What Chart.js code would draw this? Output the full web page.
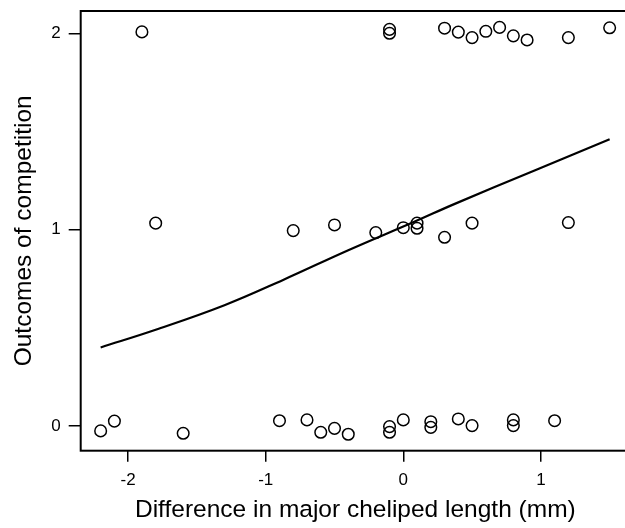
<!DOCTYPE html>
<html>
<head>
<meta charset="utf-8">
<style>
  html, body { margin: 0; padding: 0; background: #fff; overflow: hidden; }
  #wrap { width: 640px; height: 528px; }
</style>
<script src="https://cdn.jsdelivr.net/npm/chart.js@4/dist/chart.umd.min.js"></script>
</head>
<body>
<div id="wrap"><canvas id="c" width="640" height="528"></canvas></div>
<script>
const outcomeX = [
  -1.9, -0.1, -0.1, 0.3, 0.4, 0.5, 0.6, 0.7, 0.8, 0.9, 1.2, 1.5,
  -1.8, -0.8, -0.5, -0.2, 0.0, 0.1, 0.1, 0.3, 0.5, 1.2,
  -2.2, -2.1, -1.6, -0.9, -0.7, -0.6, -0.5, -0.4, -0.1, -0.1, 0.0, 0.2, 0.2, 0.4, 0.5, 0.8, 0.8, 1.1
];
const outcomeY = [
  2.007, 2.020, 2.000, 2.026, 2.006, 1.978, 2.010, 2.030, 1.987, 1.966, 1.978, 2.028,
  1.033, 0.995, 1.024, 0.985, 1.010, 1.033, 1.007, 0.961, 1.033, 1.036,
  -0.025, 0.025, -0.037, 0.027, 0.031, -0.032, -0.012, -0.042, -0.003, -0.032, 0.031, 0.022, -0.007, 0.036, 0.002, 0.031, 0.002, 0.027
];
// Fitted curve, points
const curveX = [-2.2, -1.8, -1.3, -0.87, -0.4, 0.08, 0.37, 0.95, 1.5];
const curveY = [0.40, 0.49, 0.615, 0.745, 0.895, 1.04, 1.13, 1.30, 1.46];
// Tick labels
const xTicks = [-2, -1, 0, 1];
const yTicks = [0, 1, 2];

const FONT = "'Liberation Sans', Arial, Helvetica, sans-serif";

const framePlugin = {
  id: 'frame',
  afterDatasetsDraw(chart) {
    const a = chart.chartArea, ctx = chart.ctx;
    ctx.save();
    ctx.strokeStyle = '#000';
    ctx.lineWidth = 2;
    ctx.strokeRect(a.left, a.top, a.right - a.left, a.bottom - a.top);
    ctx.restore();
  }
};

new Chart(document.getElementById('c'), {
  type: 'scatter',
  data: {
    datasets: [
      {
        label: 'fit',
        data: curveX.map((x, i) => ({ x, y: curveY[i] })),
        showLine: true,
        borderColor: '#000',
        borderWidth: 2.2,
        pointRadius: 0,
        tension: 0.4,
        fill: false
      },
      {
        label: 'outcomes',
        data: outcomeX.map((x, i) => ({ x, y: outcomeY[i] })),
        pointStyle: 'circle',
        pointRadius: 5.8,
        pointBorderWidth: 1.5,
        pointBorderColor: '#000',
        pointBackgroundColor: 'rgba(0,0,0,0)',
        showLine: false
      }
    ]
  },
  options: {
    responsive: false,
    animation: false,
    layout: { padding: { top: 11, right: 10, left: 0, bottom: 0 } },
    plugins: { legend: { display: false }, tooltip: { enabled: false } },
    scales: {
      x: {
        type: 'linear',
        min: -2.345,
        max: 1.648,
        afterBuildTicks: s => { s.ticks = xTicks.map(v => ({ value: v })); },
        afterFit: s => { s.height = 77.3; s.paddingLeft = 0; s.paddingRight = 0; },
        border: { display: false },
        grid: { display: true, drawOnChartArea: false, drawTicks: true, tickLength: 11, color: '#000', lineWidth: 1.5 },
        ticks: { color: '#000', font: { family: FONT, size: 17 }, padding: 8, maxRotation: 0 },
        title: { display: true, text: 'Difference in major cheliped length (mm)', color: '#000',
                 font: { family: FONT, size: 24.5 }, padding: { top: 0, bottom: 3 } }
      },
      y: {
        type: 'linear',
        min: -0.1258,
        max: 2.1135,
        afterBuildTicks: s => { s.ticks = yTicks.map(v => ({ value: v })); },
        afterFit: s => { s.width = 80.7; s.paddingTop = 0; s.paddingBottom = 0; },
        border: { display: false },
        grid: { display: true, drawOnChartArea: false, drawTicks: true, tickLength: 12, color: '#000', lineWidth: 1.5 },
        ticks: { color: '#000', font: { family: FONT, size: 17 }, padding: 8 },
        title: { display: true, text: 'Outcomes of competition', color: '#000',
                 font: { family: FONT, size: 24.5 }, padding: { top: 10, bottom: 0 } }
      }
    }
  },
  plugins: [framePlugin]
});
</script>
</body>
</html>
